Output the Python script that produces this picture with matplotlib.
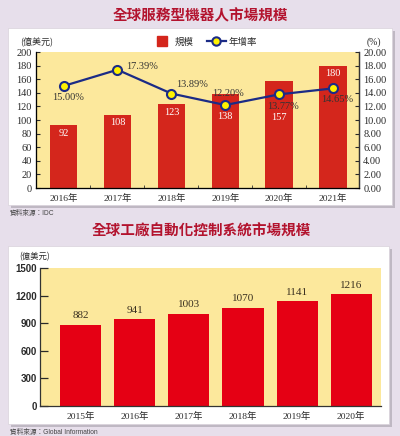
import matplotlib
matplotlib.use("Agg")
import matplotlib.pyplot as plt
from matplotlib.patches import Rectangle
from matplotlib.lines import Line2D
from matplotlib.ticker import MultipleLocator, FormatStrFormatter, FixedLocator

# ---------------- data ----------------
years1 = ["2016年", "2017年", "2018年", "2019年", "2020年", "2021年"]
scale1 = [92, 108, 123, 138, 157, 180]
growth1 = [15.00, 17.39, 13.89, 12.20, 13.77, 14.65]
growth_labels = ["15.00%", "17.39%", "13.89%", "12.20%", "13.77%", "14.65%"]

years2 = ["2015年", "2016年", "2017年", "2018年", "2019年", "2020年"]
scale2 = [882, 941, 1003, 1070, 1141, 1216]

title1 = "全球服務型機器人市場規模"
title2 = "全球工廠自動化控制系統市場規模"
source1 = "資料來源：IDC"
source2 = "資料來源：Global Information"

# ---------------- styles ----------------
W, H = 400, 436
BG = "#E7DFEB"
YEL = "#FCE89C"
RED1 = "#D4261C"
RED2 = "#E50014"
NAVY = "#1B2B86"
MK = "#FFF200"
TITLE_C = "#B3132E"
TXT = "#2A2A2A"
CJK = "Noto Sans CJK TC"
SERIF = ["Liberation Serif", CJK]
SANS = ["Liberation Sans", CJK]

fig = plt.figure(figsize=(W / 100, H / 100), dpi=100)
fig.patch.set_facecolor(BG)


def fx(x):
    return x / W


def fy(y):
    return 1 - y / H


def panel(x0, y0, x1, y1):
    sh = Rectangle((fx(x0 + 3), fy(y1 + 3)), fx(x1 - x0), (y1 - y0) / H,
                   transform=fig.transFigure, facecolor="#9E98A2", alpha=0.55,
                   edgecolor="none", zorder=-3)
    wb = Rectangle((fx(x0), fy(y1)), fx(x1 - x0), (y1 - y0) / H,
                   transform=fig.transFigure, facecolor="white",
                   edgecolor="#D8D2DA", linewidth=0.5, zorder=-2)
    fig.patches.extend([sh, wb])


panel(8, 28, 392, 205)
panel(8, 246, 389, 424)

# titles
fig.text(fx(200), fy(15), title1, ha="center", va="center", fontsize=10.5,
         fontweight="bold", color=TITLE_C, family=CJK)
fig.text(fx(201), fy(231), title2, ha="center", va="center", fontsize=10.5,
         fontweight="bold", color=TITLE_C, family=CJK)
fig.text(fx(10), fy(213), source1, ha="left", va="center", fontsize=4.8,
         color="#444444", family=SANS)
fig.text(fx(10), fy(432), source2, ha="left", va="center", fontsize=4.8,
         color="#444444", family=SANS)

# ---------------- top chart ----------------
ax1 = fig.add_axes([fx(36), fy(188), (359 - 36) / W, (188 - 52) / H])
ax1.set_facecolor(YEL)
x1 = list(range(len(years1)))
bars1 = ax1.bar(x1, scale1, width=0.51, color=RED1, zorder=2)
ax1.set_ylim(0, 200)
ax1.set_xlim(-0.51, 5.48)
ax1.yaxis.set_major_locator(MultipleLocator(20))
ax1.set_xticks(x1)
ax1.set_xticklabels(years1)
ax1.tick_params(axis="x", length=0, pad=4, labelsize=6.8, colors=TXT)
ax1.xaxis.set_minor_locator(FixedLocator([i + 0.5 for i in range(5)]))
ax1.tick_params(axis="x", which="minor", direction="in", length=2.5, color="#333")
ax1.tick_params(axis="y", direction="in", length=3, pad=3, labelsize=7.5,
                colors=TXT)
for lab in ax1.get_xticklabels():
    lab.set_family(SERIF)
for lab in ax1.get_yticklabels():
    lab.set_family(SERIF)
for s in ["top"]:
    ax1.spines[s].set_visible(False)
for s in ["left", "right", "bottom"]:
    ax1.spines[s].set_color("#333333")
    ax1.spines[s].set_linewidth(0.9)

bar_offsets = [-8, -8, -8, -22, -36, -8]
for xi, v, off in zip(x1, scale1, bar_offsets):
    ax1.annotate(str(v), (xi, v), xytext=(0, off), textcoords="offset pixels",
                 ha="center", va="center", fontsize=7.5, color="white",
                 family=SERIF, zorder=5)

ax2 = ax1.twinx()
ax2.set_ylim(0, 20)
ax2.yaxis.set_major_locator(MultipleLocator(2))
ax2.yaxis.set_major_formatter(FormatStrFormatter("%.2f"))
ax2.tick_params(axis="y", direction="in", length=3, pad=3, labelsize=7.5,
                colors=TXT)
for lab in ax2.get_yticklabels():
    lab.set_family(SERIF)
ax2.spines["top"].set_visible(False)
ax2.spines["right"].set_color("#333333")
ax2.spines["right"].set_linewidth(0.9)
ax2.plot(x1, growth1, color=NAVY, linewidth=1.6, marker="o", markersize=6.5,
         markerfacecolor=MK, markeredgecolor=NAVY, markeredgewidth=1.5, zorder=4)

gl_off = [(5, -11, "center"), (9, 3, "left"), (5, 9, "left"),
          (3, 12, "center"), (4, -12, "center"), (4, -11, "center")]
for xi, v, lab, (dx, dy, ha) in zip(x1, growth1, growth_labels, gl_off):
    ax2.annotate(lab, (xi, v), xytext=(dx, dy), textcoords="offset pixels",
                 ha=ha, va="center", fontsize=7.5, color="#333333",
                 family=SERIF, zorder=5)

fig.text(fx(20), fy(42), "(億美元)", ha="left", va="center", fontsize=6.5,
         color=TXT, family=CJK)
fig.text(fx(374), fy(42), "(%)", ha="center", va="center", fontsize=7,
         color=TXT, family=SERIF)

handles = [Line2D([], [], marker="s", color=RED1, linestyle="none",
                  markersize=7),
           Line2D([], [], color=NAVY, linewidth=1.6, marker="o", markersize=6,
                  markerfacecolor=MK, markeredgecolor=NAVY,
                  markeredgewidth=1.5)]
leg = fig.legend(handles, ["規模", "年增率"], loc="center",
                 bbox_to_anchor=(fx(205), fy(42)), ncol=2, frameon=False,
                 prop={"family": CJK, "size": 6.8}, handlelength=2.0,
                 handletextpad=0.3, columnspacing=1.4, borderpad=0)
for t in leg.get_texts():
    t.set_color(TXT)

# ---------------- bottom chart ----------------
ax3 = fig.add_axes([fx(40), fy(406), (381 - 40) / W, (406 - 268) / H])
ax3.set_facecolor(YEL)
x2 = list(range(len(years2)))
ax3.bar(x2, scale2, width=0.76, color=RED2, zorder=2)
ax3.set_ylim(0, 1500)
ax3.set_xlim(-0.75, 5.55)
ax3.yaxis.set_major_locator(MultipleLocator(300))
ax3.set_xticks(x2)
ax3.set_xticklabels(years2)
ax3.tick_params(axis="x", length=0, pad=4, labelsize=6.8, colors=TXT)
ax3.tick_params(axis="y", direction="in", length=6, width=0.9, pad=2.5,
                labelsize=7, colors=TXT)
for lab in ax3.get_xticklabels():
    lab.set_family(SERIF)
for lab in ax3.get_yticklabels():
    lab.set_family(SANS)
    lab.set_fontweight("bold")
for s in ["top", "right"]:
    ax3.spines[s].set_visible(False)
for s in ["left", "bottom"]:
    ax3.spines[s].set_color("#333333")
    ax3.spines[s].set_linewidth(0.9)
for xi, v in zip(x2, scale2):
    ax3.annotate(str(v), (xi, v), xytext=(0, 9), textcoords="offset pixels",
                 ha="center", va="center", fontsize=8, color="#3A3020",
                 family=SERIF)

fig.text(fx(19), fy(257), "(億美元)", ha="left", va="center", fontsize=6,
         color=TXT, family=CJK)

fig.savefig("out.png", dpi=100, facecolor=fig.get_facecolor())
